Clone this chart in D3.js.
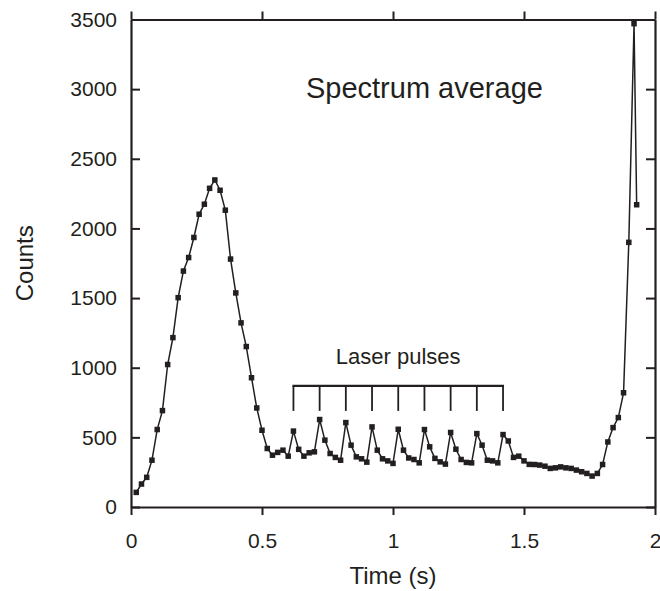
<!DOCTYPE html>
<meta charset="utf-8">
<style>
  body { margin: 0; background: #fff; }
  text { font-family: "Liberation Sans", Arial, sans-serif; fill: #231f20; }
</style>
<svg width="660" height="591"></svg>
<script src="https://cdn.jsdelivr.net/npm/d3@7"></script>
<script>

// time (s) of each sample
const time = [0.02, 0.04, 0.06, 0.08, 0.10, 0.12, 0.14, 0.16, 0.18, 0.20,
  0.22, 0.24, 0.26, 0.28, 0.30, 0.32, 0.34, 0.36, 0.38, 0.40,
  0.42, 0.44, 0.46, 0.48, 0.50, 0.52, 0.54, 0.56, 0.58, 0.60,
  0.62, 0.64, 0.66, 0.68, 0.70, 0.72, 0.74, 0.76, 0.78, 0.80,
  0.82, 0.84, 0.86, 0.88, 0.90, 0.92, 0.94, 0.96, 0.98, 1.00,
  1.02, 1.04, 1.06, 1.08, 1.10, 1.12, 1.14, 1.16, 1.18, 1.20,
  1.22, 1.24, 1.26, 1.28, 1.30, 1.32, 1.34, 1.36, 1.38, 1.40,
  1.42, 1.44, 1.46, 1.48, 1.50, 1.52, 1.54, 1.56, 1.58, 1.60,
  1.62, 1.64, 1.66, 1.68, 1.70, 1.72, 1.74, 1.76, 1.78, 1.80,
  1.82, 1.84, 1.86, 1.88, 1.90, 1.92, 1.93]

// spectrum average counts
const counts = [105, 165, 213, 336, 556, 692, 1023, 1216, 1503, 1694,
  1791, 1935, 2102, 2174, 2288, 2348, 2274, 2131, 1780, 1537,
  1322, 1152, 928, 711, 551, 420, 372, 392, 408, 365,
  545, 414, 365, 389, 396, 628, 480, 384, 356, 336,
  606, 444, 360, 346, 322, 575, 408, 346, 331, 313,
  558, 408, 352, 341, 317, 556, 432, 349, 324, 308,
  535, 415, 341, 320, 317, 527, 444, 336, 331, 317,
  520, 474, 356, 365, 331, 306, 305, 301, 293, 277,
  281, 288, 281, 277, 265, 253, 241, 222, 241, 305,
  467, 570, 642, 820, 1900, 3470, 2170]

const xTicks = [0, 0.5, 1, 1.5, 2]
const yTicks = [0, 500, 1000, 1500, 2000, 2500, 3000, 3500]
const pulseTimes = [0.62, 0.72, 0.82, 0.92, 1.02, 1.12, 1.22, 1.32, 1.42]
const pulseTop = 870, pulseBottom = 690

const width = 660, height = 591
const margin = {top: 19.5, right: 5, bottom: 84, left: 131}
const ink = "#231f20"

const svg = d3.select("svg")

const x = d3.scaleLinear().domain([0, 2]).range([margin.left, width - margin.right])
const y = d3.scaleLinear().domain([0, 3500]).range([height - margin.bottom, margin.top])

const data = time.map((t, i) => ({t, c: counts[i]}))

// axes: bottom / top ticks outward, left / right ticks inward
const fmt = d => d3.format("")(d)

const gx = svg.append("g")
    .attr("transform", `translate(0,${y(0)})`)
    .call(d3.axisBottom(x).tickValues(xTicks).tickFormat(fmt).tickSize(8).tickSizeOuter(0).tickPadding(18))
const gxTop = svg.append("g")
    .attr("transform", `translate(0,${y(3500)})`)
    .call(d3.axisTop(x).tickValues(xTicks).tickFormat("").tickSize(8).tickSizeOuter(0))
const gy = svg.append("g")
    .attr("transform", `translate(${x(0)},0)`)
    .call(d3.axisLeft(y).tickValues(yTicks).tickFormat(fmt).tickSize(-9).tickSizeOuter(0).tickPadding(14))
const gyRight = svg.append("g")
    .attr("transform", `translate(${x(2)},0)`)
    .call(d3.axisRight(y).tickValues(yTicks).tickFormat("").tickSize(-9).tickSizeOuter(0))

for (const g of [gx, gxTop, gy, gyRight]) {
  g.select(".domain").attr("stroke", ink).attr("stroke-width", 2.2)
  g.selectAll(".tick line").attr("stroke", ink).attr("stroke-width", 2)
  g.selectAll("text").attr("font-size", 21).attr("fill", ink)
      .attr("font-family", "'Liberation Sans', Arial, sans-serif")
}

// the data line
svg.append("path")
    .datum(data)
    .attr("fill", "none")
    .attr("stroke", ink)
    .attr("stroke-width", 1.5)
    .attr("d", d3.line().x(d => x(d.t)).y(d => y(d.c)))

svg.append("g")
  .selectAll("rect")
  .data(data)
  .join("rect")
    .attr("x", d => x(d.t) - 2.75)
    .attr("y", d => y(d.c) - 2.75)
    .attr("width", 5.5)
    .attr("height", 5.5)
    .attr("fill", ink)

// laser pulses bracket
svg.append("line")
    .attr("x1", x(pulseTimes[0]) - 1)
    .attr("x2", x(pulseTimes[pulseTimes.length - 1]) + 1)
    .attr("y1", y(pulseTop))
    .attr("y2", y(pulseTop))
    .attr("stroke", ink)
    .attr("stroke-width", 2.2)

svg.append("g")
  .selectAll("line")
  .data(pulseTimes)
  .join("line")
    .attr("x1", d => x(d))
    .attr("x2", d => x(d))
    .attr("y1", y(pulseTop))
    .attr("y2", y(pulseBottom))
    .attr("stroke", ink)
    .attr("stroke-width", 1.8)

svg.append("text")
    .attr("x", x(1.02))
    .attr("y", y(pulseTop) - 22)
    .attr("text-anchor", "middle")
    .attr("font-size", 22)
    .text("Laser pulses")

svg.append("text")
    .attr("x", x(1.12))
    .attr("y", 98)
    .attr("text-anchor", "middle")
    .attr("font-size", 29)
    .text("Spectrum average")

// axis titles
svg.append("text")
    .attr("x", x(1))
    .attr("y", 584)
    .attr("text-anchor", "middle")
    .attr("font-size", 24)
    .text("Time (s)")

svg.append("text")
    .attr("transform", `translate(33,${y(1750)}) rotate(-90)`)
    .attr("text-anchor", "middle")
    .attr("font-size", 24)
    .text("Counts")

</script>
